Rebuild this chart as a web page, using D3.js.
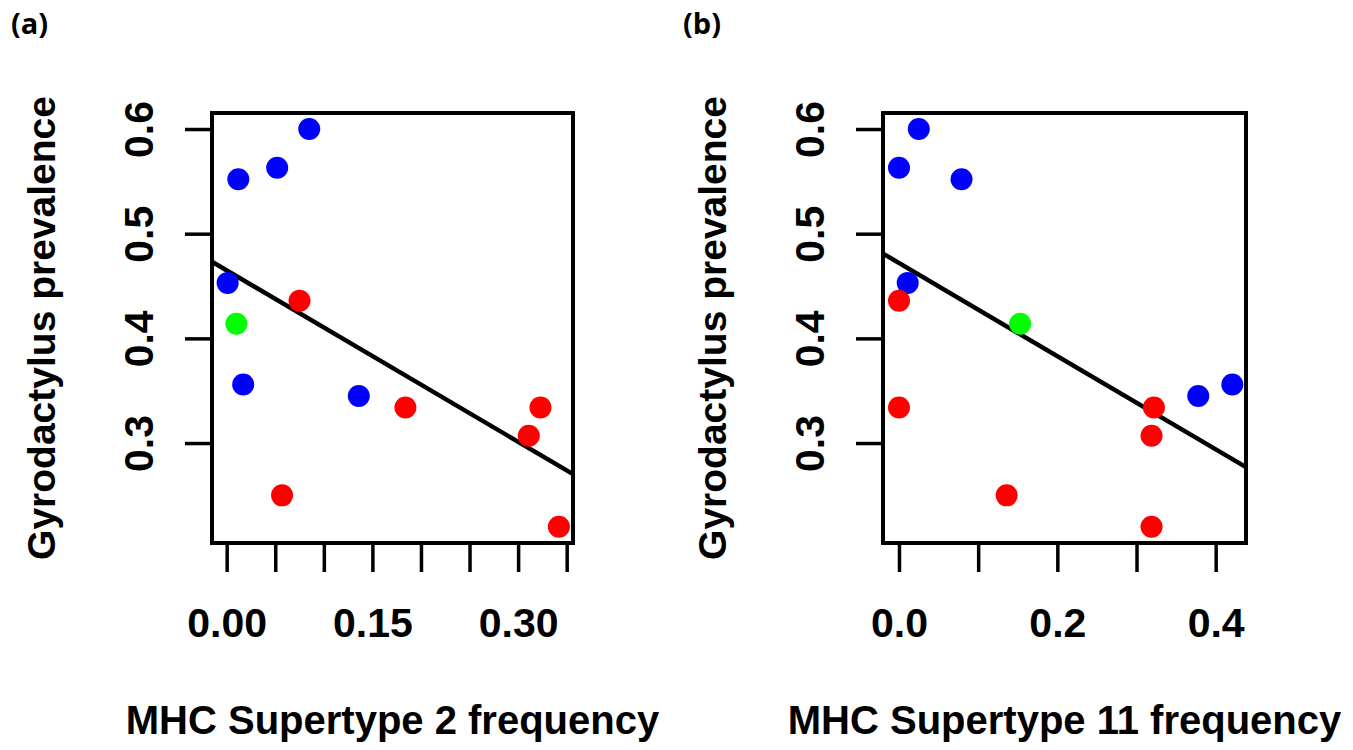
<!DOCTYPE html>
<html>
<head>
<meta charset="utf-8">
<script src="https://cdn.jsdelivr.net/npm/d3@7"></script>
<style>
  body { margin: 0; background: #fff; }
  text { font-family: "Liberation Sans", Arial, sans-serif; }
</style>
</head>
<body>
<div id="svg-container"></div>
<script>
// one entry per population, same order in every array
const prevalence = [0.600, 0.563, 0.552, 0.453, 0.436, 0.414, 0.356, 0.345, 0.334, 0.334, 0.307, 0.250, 0.220];
const group      = ['g1', 'g1', 'g1', 'g1', 'g2', 'g3', 'g1', 'g1', 'g2', 'g2', 'g2', 'g2', 'g2'];
const st2Freq    = [0.085, 0.052, 0.012, 0.001, 0.075, 0.010, 0.017, 0.136, 0.184, 0.323, 0.311, 0.057, 0.342];
const st11Freq   = [0.025, 0.000, 0.079, 0.011, 0.000, 0.153, 0.421, 0.378, 0.000, 0.322, 0.319, 0.136, 0.319];

// fitted lines: [intercept, slope]
const st2Fit  = [0.465, -0.546];
const st11Fit = [0.472, -0.445];

const yTicks = [0.3, 0.4, 0.5, 0.6];
const st2Ticks = [0, 0.05, 0.10, 0.15, 0.20, 0.25, 0.30, 0.35];
const st2Labels = [0, 0.15, 0.30];
const st11Ticks = [0, 0.1, 0.2, 0.3, 0.4];
const st11Labels = [0, 0.2, 0.4];

const w = 1353;
const h = 750;
const plotTop = 113, plotBottom = 543;

const color = d3.scaleOrdinal()
  .domain(['g1', 'g2', 'g3'])
  .range(['#0000ff', '#ff0000', '#00ff00']);

const svg = d3.select('#svg-container')
  .append('svg')
  .attr('width', w)
  .attr('height', h);

const panels = [
  { tag: '(a)', tagX: 11, left: 212, right: 573, xs: st2Freq, fit: st2Fit,
    xDomain: [-0.0151, 0.3565], ticks: st2Ticks, labels: st2Labels, fmt: d3.format('.2f'),
    title: 'MHC Supertype 2 frequency' },
  { tag: '(b)', tagX: 683, left: 883, right: 1246, xs: st11Freq, fit: st11Fit,
    xDomain: [-0.0202, 0.4383], ticks: st11Ticks, labels: st11Labels, fmt: d3.format('.1f'),
    title: 'MHC Supertype 11 frequency' }
];

const yScale = d3.scaleLinear()
  .domain([0.2045, 0.6153])
  .range([plotBottom, plotTop]);

panels.forEach(p => {
  const g = svg.append('g');
  const xScale = d3.scaleLinear()
    .domain(p.xDomain)
    .range([p.left, p.right]);

  g.append('text')
    .attr('x', p.tagX)
    .attr('y', 34)
    .attr('font-size', 29)
    .attr('font-weight', 'bold')
    .style('font-family', '"Open Sans", sans-serif')
    .text(p.tag);

  // regression line under the points
  const line = d3.line()
    .x(d => xScale(d))
    .y(d => yScale(p.fit[0] + p.fit[1] * d));
  g.append('path')
    .datum(p.xDomain)
    .attr('d', line)
    .attr('stroke', '#000')
    .attr('stroke-width', 4.5)
    .attr('fill', 'none');

  g.selectAll('circle')
    .data(prevalence.map((v, i) => ({ x: p.xs[i], y: v, g: group[i] })))
    .enter()
    .append('circle')
    .attr('cx', d => xScale(d.x))
    .attr('cy', d => yScale(d.y))
    .attr('r', 11)
    .attr('fill', d => color(d.g));

  g.append('rect')
    .attr('x', p.left)
    .attr('y', plotTop)
    .attr('width', p.right - p.left)
    .attr('height', plotBottom - plotTop)
    .attr('fill', 'none')
    .attr('stroke', '#000')
    .attr('stroke-width', 4);

  const xAxis = d3.axisBottom(xScale)
    .tickValues(p.ticks)
    .tickSize(29)
    .tickFormat(d => p.labels.some(l => Math.abs(l - d) < 1e-9) ? p.fmt(d) : '');
  const xg = g.append('g')
    .attr('transform', 'translate(0, ' + plotBottom + ')')
    .call(xAxis);
  xg.select('.domain').remove();
  xg.selectAll('.tick line').attr('stroke-width', 3.5);
  xg.selectAll('.tick text')
    .attr('y', 80)
    .attr('dy', '0.35em')
    .attr('font-size', 41)
    .attr('font-weight', 'bold')
    .attr('fill', '#000');

  const yAxis = d3.axisLeft(yScale)
    .tickValues(yTicks)
    .tickSize(27)
    .tickFormat(d3.format('.1f'));
  const yg = g.append('g')
    .attr('transform', 'translate(' + p.left + ', 0)')
    .call(yAxis);
  yg.select('.domain').remove();
  yg.selectAll('.tick line').attr('stroke-width', 3.5);
  yg.selectAll('.tick text')
    .attr('x', null)
    .attr('dy', null)
    .attr('transform', 'translate(-73, 0) rotate(-90)')
    .attr('text-anchor', 'middle')
    .attr('dominant-baseline', 'central')
    .attr('font-size', 41)
    .attr('font-weight', 'bold')
    .attr('fill', '#000');

  g.append('text')
    .attr('transform', 'translate(' + (p.left - 171) + ', ' + (plotTop + plotBottom) / 2 + ') rotate(-90)')
    .attr('text-anchor', 'middle')
    .attr('dominant-baseline', 'central')
    .attr('font-size', 39)
    .attr('font-weight', 'bold')
    .text('Gyrodactylus prevalence');

  g.append('text')
    .attr('x', (p.left + p.right) / 2)
    .attr('y', 720)
    .attr('text-anchor', 'middle')
    .attr('dominant-baseline', 'central')
    .attr('font-size', 40)
    .attr('font-weight', 'bold')
    .text(p.title);
});
</script>
</body>
</html>
